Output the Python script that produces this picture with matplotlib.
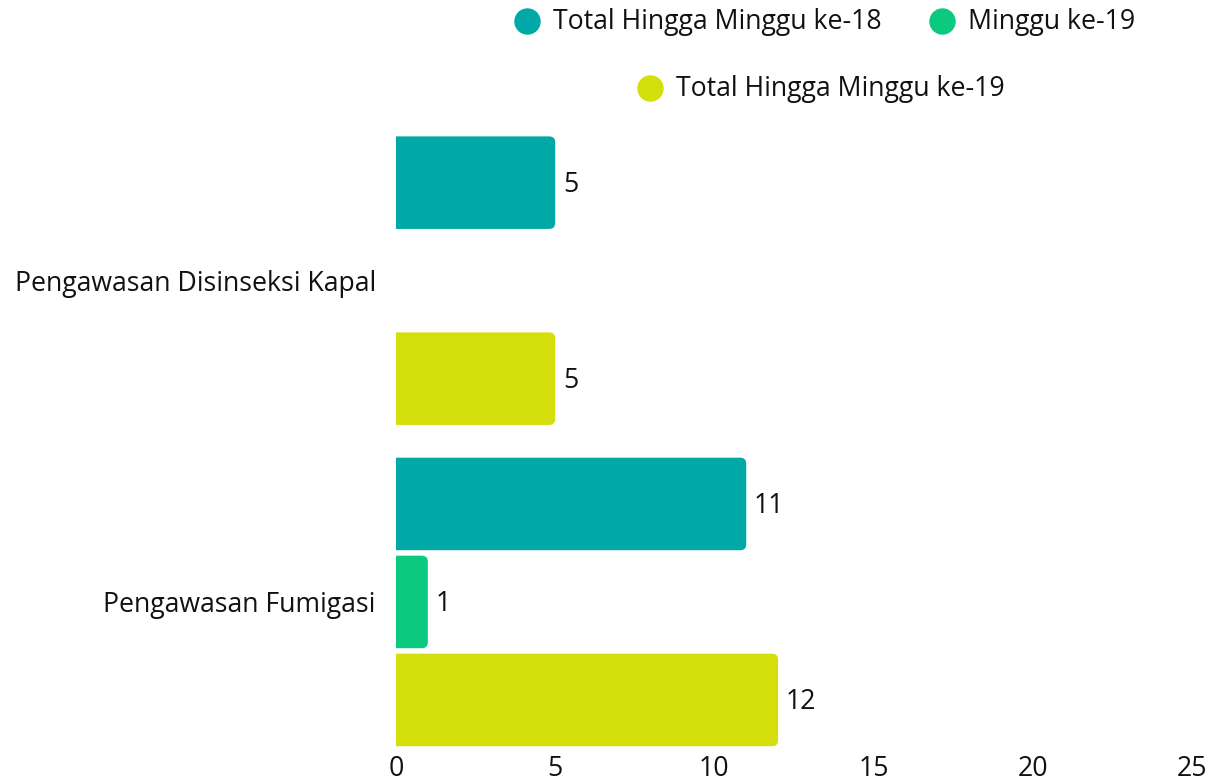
import matplotlib
matplotlib.use("Agg")
import matplotlib.pyplot as plt
from matplotlib.patches import FancyBboxPatch
from matplotlib.lines import Line2D
import numpy as np

categories = ["Pengawasan Disinseksi Kapal", "Pengawasan Fumigasi"]
series_names = ["Total Hingga Minggu ke-18", "Minggu ke-19", "Total Hingga Minggu ke-19"]
total_w18 = [5, 11]
week19 = [np.nan, 1]
total_w19 = [5, 12]
colors = ["#00A9A5", "#0BC97F", "#D4DE0A"]
xticks = [0, 5, 10, 15, 20, 25]

FONT = "Open Sans"
plt.rcParams["font.family"] = [FONT, "DejaVu Sans"]

W, H = 1225, 782
fig = plt.figure(figsize=(W / 100, H / 100), dpi=100)

# choose font size so the category label has the reference width (~362 px)
renderer = fig.canvas.get_renderer()
t = fig.text(0, 0, categories[0], fontsize=16)
w = t.get_window_extent(renderer).width
t.remove()
FS = 16 * 362 / w
TXT = "#111111"

ax_left, ax_right, ax_top, ax_bottom = 396, 1192, 120, 752
ax = fig.add_axes([ax_left / W, 1 - ax_bottom / H, (ax_right - ax_left) / W, (ax_bottom - ax_top) / H])

y = np.arange(len(categories))
offset = 0.305
height = 0.288
series = [total_w18, week19, total_w19]

ax.set_xlim(0, 25)
ax.set_ylim(1.467, -0.5)

px_per_x = (ax_right - ax_left) / 25
px_per_y = (ax_bottom - ax_top) / (1.467 + 0.5)
r_px = 6
rx = r_px / px_per_x
ry = r_px / px_per_y

for i, (vals, col) in enumerate(zip(series, colors)):
    bars = ax.barh(y + (i - 1) * offset, [0 if np.isnan(v) else v for v in vals], height=height, color=col)
    for rect, v in zip(bars, vals):
        rect.set_visible(False)
        if np.isnan(v) or v == 0:
            continue
        bx, by, bw, bh = rect.get_x(), rect.get_y(), rect.get_width(), rect.get_height()
        p = FancyBboxPatch((bx - rx, by), bw + rx, bh,
                           boxstyle=f"round,pad=0,rounding_size={rx}",
                           mutation_aspect=ry / rx, facecolor=col, edgecolor="none",
                           clip_on=True)
        ax.add_patch(p)
        ax.annotate(f"{v:g}", (bx + bw, by + bh / 2), xytext=(5.5, -1.5), textcoords="offset points",
                    va="center", ha="left", fontsize=FS, color=TXT)

ax.set_xticks(xticks)
ax.set_xticklabels([str(t) for t in xticks], fontsize=FS, color=TXT)
ax.set_yticks(y)
ax.set_yticklabels(categories, fontsize=FS, color=TXT)
ax.tick_params(axis="both", length=0)
ax.tick_params(axis="y", pad=14.5)
ax.tick_params(axis="x", pad=2.5)
for s in ax.spines.values():
    s.set_visible(False)

# legend (manual layout to match the reference arrangement)
legend_items = [(series_names[0], colors[0], 527, 21),
                (series_names[1], colors[1], 942, 21),
                (series_names[2], colors[2], 650, 88)]
for name, col, cx, cy in legend_items:
    fig.add_artist(Line2D([cx / W], [1 - cy / H], transform=fig.transFigure, marker="o",
                          linestyle="none", markersize=18, markerfacecolor=col, markeredgecolor=col))
    fig.text((cx + 26) / W, 1 - (cy + 1) / H, name, fontsize=FS, color=TXT, va="center", ha="left")

fig.savefig("out.png", dpi=100)
